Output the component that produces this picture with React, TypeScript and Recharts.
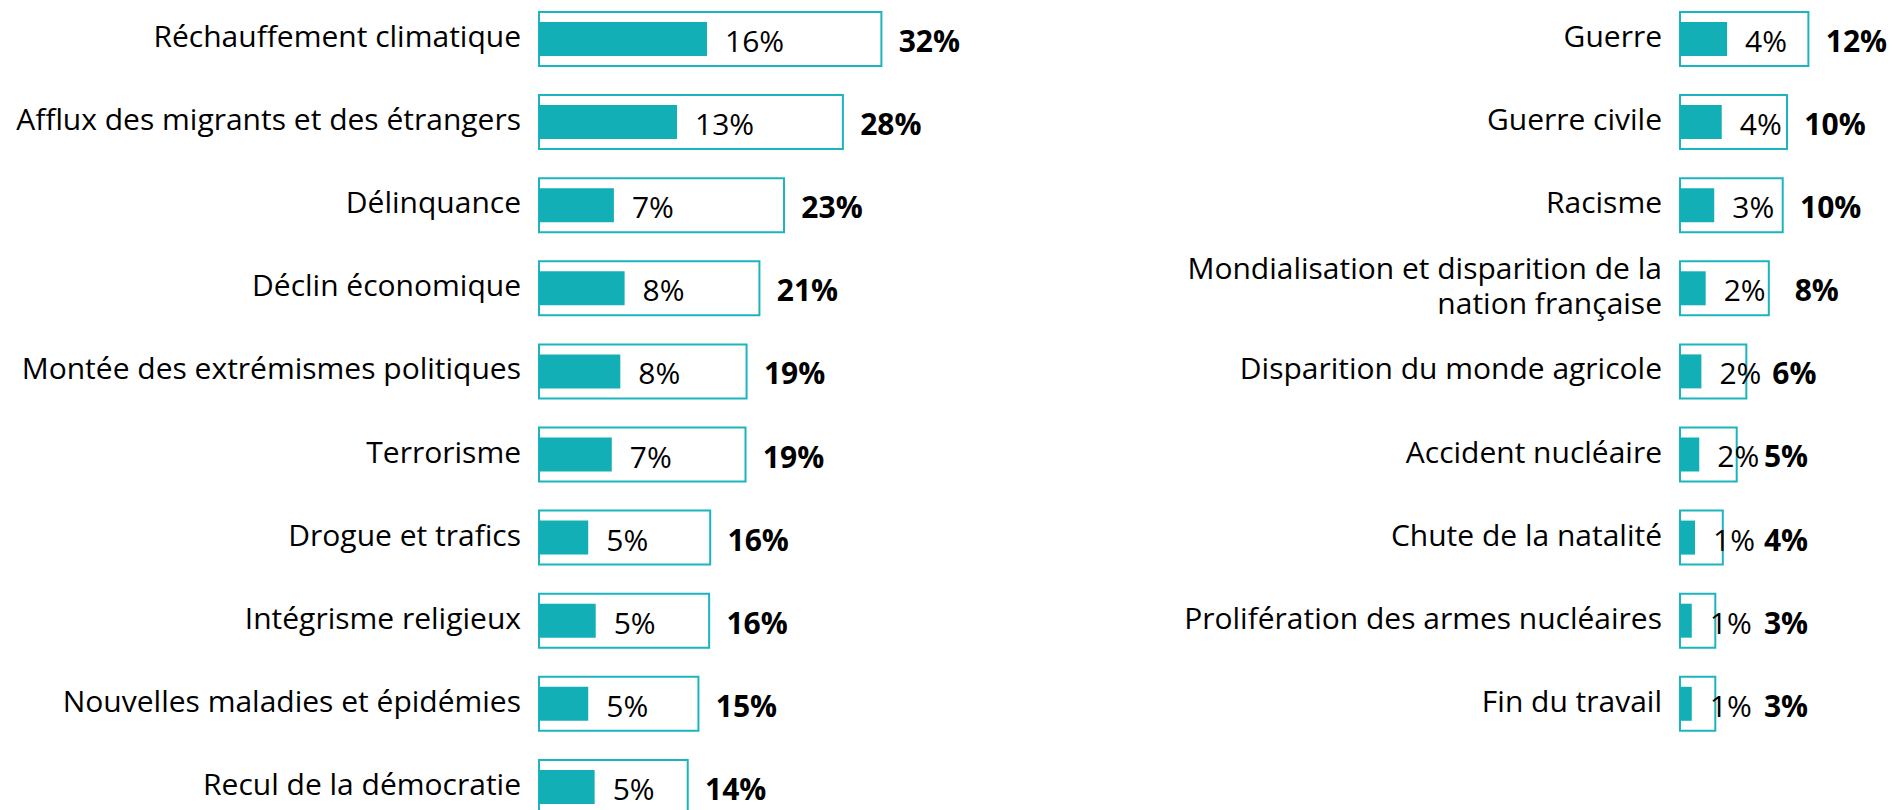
import { Bar, BarChart, LabelList, XAxis, YAxis } from "recharts";

const leftCategories = [
  "Réchauffement climatique",
  "Afflux des migrants et des étrangers",
  "Délinquance",
  "Déclin économique",
  "Montée des extrémismes politiques",
  "Terrorisme",
  "Drogue et trafics",
  "Intégrisme religieux",
  "Nouvelles maladies et épidémies",
  "Recul de la démocratie",
];
const leftTotal = [32.0, 28.4, 22.9, 20.6, 19.4, 19.3, 16.0, 15.9, 14.9, 13.9];
const leftFirst = [15.7, 12.9, 7.0, 8.0, 7.6, 6.8, 4.6, 5.3, 4.6, 5.2];

const rightCategories = [
  "Guerre",
  "Guerre civile",
  "Racisme",
  "Mondialisation et disparition de la nation française",
  "Disparition du monde agricole",
  "Accident nucléaire",
  "Chute de la natalité",
  "Prolifération des armes nucléaires",
  "Fin du travail",
];
const rightTotal = [12.0, 10.0, 9.6, 8.3, 6.2, 5.3, 4.0, 3.3, 3.3];
const rightFirst = [4.4, 3.9, 3.2, 2.4, 2.0, 1.8, 1.4, 1.1, 1.1];

const TEAL = "#13afb7";
const OUTLINE = "#1cb5bd";
const FONT = 30;
const BAND = 83.1;

const toRows = (names: string[], total: number[], first: number[]) =>
  names.map((name, i) => ({ name, total: total[i], first: first[i] }));

function wrap(text: string, max: number) {
  const words = text.split(" ");
  const lines: string[] = [];
  let cur = "";
  for (const w of words) {
    const next = cur ? cur + " " + w : w;
    if (next.length > max && cur) {
      lines.push(cur);
      cur = w;
    } else cur = next;
  }
  if (cur) lines.push(cur);
  return lines;
}

function CategoryTick(props: any) {
  const { x, y, payload } = props;
  const lines = wrap(payload.value, 36);
  const lh = 35;
  const start = y + 8.5 - ((lines.length - 1) * lh) / 2;
  return (
    <text x={x} y={start} textAnchor="end" fontSize={FONT} fill="#000">
      {lines.map((l, i) => (
        <tspan key={i} x={x} dy={i === 0 ? 0 : lh}>
          {l}
        </tspan>
      ))}
    </text>
  );
}

// share label: left-aligned just after the filled bar
const innerLabel = (props: any) => {
  const { x, y, width, height } = props.viewBox ?? props;
  return (
    <text x={x + width + 18} y={y + height / 2 + 13} fontSize={FONT} fill="#000">
      {Math.round(props.value)}%
    </text>
  );
};

// total label: centred after the outline, never closer than minimum to the axis
const totalLabel = (props: any) => {
  const { x, y, width, height } = props.viewBox ?? props;
  const cx = Math.max(x + width + 48, x + 106);
  return (
    <text
      x={cx}
      y={y + height / 2 + 13}
      fontSize={FONT}
      fontWeight={700}
      textAnchor="middle"
      fill="#000"
    >
      {Math.round(props.value)}%
    </text>
  );
};

function Panel({
  data,
  axisWidth,
  max,
  width,
}: {
  data: { name: string; total: number; first: number }[];
  axisWidth: number;
  max: number;
  width: number;
}) {
  const plotW = max * 10.7;
  return (
    <BarChart
      width={width}
      height={data.length * BAND}
      data={data}
      layout="vertical"
      margin={{ top: 0, right: width - axisWidth - plotW, bottom: 0, left: 0 }}
    >
      <XAxis type="number" domain={[0, max]} hide />
      <YAxis
        yAxisId="outer"
        type="category"
        dataKey="name"
        width={axisWidth}
        axisLine={false}
        tickLine={false}
        tickSize={0}
        tickMargin={18}
        tick={<CategoryTick />}
        interval={0}
      />
      <YAxis yAxisId="inner" type="category" dataKey="name" width={0} hide />
      <Bar
        yAxisId="outer"
        dataKey="total"
        barSize={54}
        fill="#fff"
        stroke={OUTLINE}
        strokeWidth={2}
        isAnimationActive={false}
      >
        <LabelList dataKey="total" content={totalLabel} />
      </Bar>
      <Bar yAxisId="inner" dataKey="first" barSize={34} fill={TEAL} isAnimationActive={false}>
        <LabelList dataKey="first" content={innerLabel} />
      </Bar>
    </BarChart>
  );
}

export default function App() {
  return (
    <div
      style={{
        position: "absolute",
        top: 0,
        left: 0,
        width: 1892,
        height: 810,
        overflow: "hidden",
        background: "#fff",
        fontFamily: "'Open Sans', sans-serif",
      }}
    >
      <div style={{ position: "absolute", left: 0, top: -3 }}>
        <Panel data={toRows(leftCategories, leftTotal, leftFirst)} axisWidth={539} max={40} width={1067} />
      </div>
      <div style={{ position: "absolute", left: 1150, top: -3 }}>
        <Panel data={toRows(rightCategories, rightTotal, rightFirst)} axisWidth={530} max={19} width={742} />
      </div>
    </div>
  );
}
